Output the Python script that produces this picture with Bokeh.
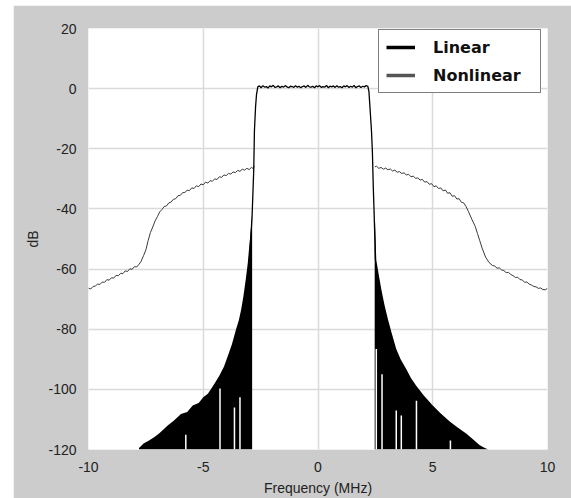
from bokeh.plotting import figure
from bokeh.models import Legend, LegendItem, FixedTicker
from bokeh.embed import file_html
from bokeh.resources import INLINE

# ---------------- data ----------------
x_ticks = [-10, -5, 0, 5, 10]
y_ticks = [-120, -100, -80, -60, -40, -20, 0, 20]

# Linear spectrum: in-band line
lin_x = [-2.99, -2.93, -2.87, -2.80, -2.77, -2.72, -2.68, -2.62,
         -2.55, -2.48, -2.40, -2.33, -2.25, -2.18, -2.10, -2.03, -1.95, -1.88,
         -1.80, -1.73, -1.65, -1.58, -1.50, -1.43, -1.35, -1.28, -1.20, -1.13,
         -1.05, -0.98, -0.90, -0.83, -0.75, -0.68, -0.60, -0.53, -0.45, -0.38,
         -0.30, -0.23, -0.15, -0.08, 0.00, 0.07, 0.15, 0.22, 0.30, 0.37, 0.45,
         0.52, 0.60, 0.67, 0.75, 0.82, 0.90, 0.97, 1.05, 1.12, 1.20, 1.27,
         1.35, 1.42, 1.50, 1.57, 1.65, 1.72, 1.80, 1.87, 1.95, 2.02, 2.10,
         2.17, 2.22,
         2.28, 2.33, 2.37, 2.41, 2.44, 2.47, 2.50, 2.54]
lin_y = [-57, -50, -42, -27, -14, -6, -2, 0.7,
         0.9, 0.3, 1.0, 0.5, 0.7, 0.2, 0.9, 0.6, 1.1, 0.4, 0.6,
         0.9, 0.3, 0.8, 0.5, 1.0, 0.6, 0.3, 0.8, 0.7, 0.4,
         1.0, 0.5, 0.8, 0.3, 0.7, 0.9, 0.4, 1.1, 0.6, 0.5,
         0.8, 0.3, 0.9, 0.6, 1.0, 0.4, 0.7, 0.5, 1.1, 0.3,
         0.8, 0.6, 0.9, 0.4, 1.0, 0.5, 0.7, 0.3, 0.9, 0.6,
         1.0, 0.4, 0.8, 0.5, 1.1, 0.3, 0.7, 0.9, 0.4, 0.8, 0.6,
         1.0, 0.8,
         -1.0, -8.0, -14.0, -21.0, -33.0, -40.0, -48.0, -57.0]

# Linear spectrum: spectral skirts (upper envelope of the black spikes)
skirt_l_x = [-7.80, -7.60, -7.40, -7.14, -6.90, -6.55, -6.30, -5.97, -5.70,
             -5.46, -5.20, -5.00, -4.80, -4.66, -4.50, -4.30, -4.10, -3.93,
             -3.75, -3.57, -3.45, -3.35, -3.25, -3.14, -3.06, -2.99, -2.93, -2.87]
skirt_l_y = [-119.5, -118.0, -117.2, -115.9, -114.5, -112.0, -110.5, -108.2,
             -107.5, -105.4, -104.5, -102.6, -101.5, -99.9, -98.0, -95.5, -92.5,
             -88.9, -85.0, -80.0, -77.0, -73.5, -69.0, -63.0, -58.0, -52.0,
             -47.0, -42.0]
skirt_r_x = [2.47, 2.50, 2.54, 2.65, 2.76, 2.90, 3.05, 3.20, 3.41, 3.60, 3.85,
             4.05, 4.28, 4.60, 5.00, 5.35, 5.74, 6.10, 6.47, 6.75, 7.05, 7.25, 7.42]
skirt_r_y = [-40.0, -48.0, -57.0, -62.0, -66.8, -72.0, -76.8, -81.0, -86.6,
             -90.0, -93.3, -96.2, -98.8, -102.0, -105.4, -108.0, -110.7, -112.8,
             -114.8, -116.6, -118.6, -119.4, -120.0]

# Notches (white gaps) in the black skirts: frequency and top level
gap_x = [-5.76, -4.27, -3.64, -3.40, 2.54, 2.79, 3.41, 3.63, 4.29, 5.77]
gap_top = [-115.1, -99.7, -106.0, -102.6, -86.6, -95.0, -107.0, -108.7, -103.8, -117.0]

# Nonlinear spectrum (out-of-band regrowth)
nl_l_x = [-10.0, -9.9, -9.8, -9.7, -9.6, -9.5, -9.4, -9.3, -9.2, -9.1, -9.0,
          -8.9, -8.8, -8.7, -8.6, -8.5, -8.4, -8.3, -8.2, -8.1, -8.0, -7.9,
          -7.8, -7.72, -7.6, -7.5, -7.4, -7.3, -7.2, -7.1, -7.0, -6.9, -6.8,
          -6.7, -6.6, -6.5, -6.4, -6.3, -6.2, -6.1, -6.0, -5.9, -5.8, -5.7,
          -5.6, -5.5, -5.4, -5.3, -5.2, -5.1, -5.0, -4.9, -4.8, -4.7, -4.6,
          -4.5, -4.4, -4.3, -4.2, -4.1, -4.0, -3.9, -3.8, -3.7, -3.6, -3.5,
          -3.4, -3.3, -3.2, -3.1, -3.0, -2.9, -2.82, -2.78]
nl_l_y = [-66.4, -66.6, -65.8, -65.6, -65.0, -65.1, -64.3, -64.4, -63.5, -63.7,
          -62.9, -63.0, -62.1, -62.2, -61.4, -61.5, -60.6, -60.8, -59.9, -60.1,
          -59.2, -59.3, -58.4, -57.6, -55.5, -53.6, -50.5, -47.8, -46.0, -44.0,
          -42.6, -41.0, -40.2, -39.2, -39.0, -38.0, -37.7, -36.8, -36.6, -35.6,
          -35.5, -34.6, -34.5, -33.8, -33.9, -33.0, -33.2, -32.3, -32.6, -31.7,
          -32.0, -31.1, -31.4, -30.6, -30.8, -30.0, -30.2, -29.3, -29.5, -28.7,
          -28.9, -28.2, -28.4, -27.7, -27.9, -27.2, -27.5, -26.8, -27.1, -26.5,
          -26.9, -26.2, -26.6, -25.8]
nl_r_x = [2.48, 2.55, 2.65, 2.75, 2.85, 2.95, 3.05, 3.15, 3.25, 3.35, 3.45,
          3.55, 3.65, 3.75, 3.85, 3.95, 4.05, 4.15, 4.25, 4.35, 4.45, 4.55,
          4.65, 4.75, 4.85, 4.95, 5.05, 5.15, 5.25, 5.35, 5.45, 5.55, 5.65,
          5.75, 5.85, 5.95, 6.05, 6.15, 6.25, 6.35, 6.45, 6.55, 6.7, 6.85,
          6.95, 7.05, 7.15, 7.3, 7.45, 7.6, 7.7, 7.8, 7.9, 8.0, 8.1, 8.2, 8.3,
          8.4, 8.5, 8.6, 8.7, 8.8, 8.9, 9.0, 9.1, 9.2, 9.3, 9.4, 9.5, 9.6,
          9.7, 9.8, 9.9, 10.0]
nl_r_y = [-26.0, -25.8, -26.5, -26.2, -26.8, -26.4, -27.0, -26.7, -27.4, -27.1,
          -27.8, -27.6, -28.2, -28.0, -28.7, -28.5, -29.3, -29.1, -29.8, -29.7,
          -30.4, -30.2, -31.1, -30.9, -31.8, -31.6, -32.6, -32.3, -33.2, -33.0,
          -34.0, -33.7, -34.8, -34.6, -35.8, -35.6, -36.7, -36.6, -37.8, -38.0,
          -39.2, -40.8, -43.4, -45.8, -48.2, -50.6, -53.0, -56.0, -57.8, -58.8,
          -59.0, -59.7, -59.6, -60.3, -60.5, -61.2, -61.1, -61.8, -62.2, -62.8,
          -62.7, -63.5, -63.6, -64.4, -64.3, -65.0, -65.3, -65.8, -65.9, -66.4,
          -66.3, -66.8, -66.9, -66.4]

# ---------------- figure ----------------
p = figure(width=558, height=493, x_range=(-10, 10), y_range=(-120, 20),
           output_backend="svg", toolbar_location=None, margin=(5, 0, 0, 13),
           min_border_left=75, min_border_right=24, min_border_top=23,
           min_border_bottom=46)
p.border_fill_color = "#CCCCCC"
p.background_fill_color = "white"
p.outline_line_color = None

for ax in (p.xaxis[0], p.yaxis[0]):
    ax.axis_line_color = None
    ax.major_tick_line_color = None
    ax.minor_tick_line_color = None
    ax.major_label_text_font = "Liberation Sans"
    ax.major_label_text_font_size = "14px"
    ax.major_label_text_color = "#222222"
    ax.axis_label_text_font = "Liberation Sans"
    ax.axis_label_text_font_size = "14px"
    ax.axis_label_text_font_style = "normal"
    ax.axis_label_text_color = "#222222"

p.xaxis.ticker = FixedTicker(ticks=x_ticks)
p.yaxis.ticker = FixedTicker(ticks=y_ticks)
p.xaxis.major_label_overrides = {t: str(t) for t in x_ticks}
p.yaxis.major_label_overrides = {t: str(t) for t in y_ticks}
p.xaxis.axis_label = "Frequency (MHz)"
p.yaxis.axis_label = "dB"
p.xaxis.major_label_standoff = 6
p.xaxis.axis_label_standoff = 5
p.yaxis.major_label_standoff = 6
p.yaxis.axis_label_standoff = 4

p.xgrid.ticker = FixedTicker(ticks=x_ticks)
p.ygrid.ticker = FixedTicker(ticks=y_ticks)
p.grid.grid_line_color = "#DADADA"
p.grid.grid_line_width = 1.5

# nonlinear
nl1 = p.line(nl_l_x, nl_l_y, line_color="#3a3a3a", line_width=1)
nl2 = p.line(nl_r_x, nl_r_y, line_color="#3a3a3a", line_width=1)

# linear skirts
p.varea(x=skirt_l_x, y1=-120, y2=skirt_l_y, fill_color="black")
p.varea(x=skirt_r_x, y1=-120, y2=skirt_r_y, fill_color="black")
p.segment(x0=gap_x, y0=[-120] * len(gap_x), x1=gap_x, y1=gap_top,
          line_color="white", line_width=1.5)
lin = p.line(lin_x, lin_y, line_color="black", line_width=1.3)

# legend proxies (thick lines; a single point draws nothing in the plot)
lg_lin = p.line(lin_x[:1], lin_y[:1], line_color="black", line_width=3.5)
lg_nl = p.line(nl_l_x[:1], nl_l_y[:1], line_color="#555555", line_width=3.5)

legend = Legend(items=[LegendItem(label="Linear", renderers=[lg_lin]),
                       LegendItem(label="Nonlinear", renderers=[lg_nl])],
                location=(290, 356))
legend.label_text_font = "DejaVu Sans"
legend.label_text_font_style = "bold"
legend.label_text_font_size = "16px"
legend.label_text_color = "#111111"
legend.glyph_width = 29
legend.glyph_height = 20
legend.label_height = 20
legend.label_standoff = 18
legend.label_width = 100
legend.padding = 7
legend.spacing = 8
legend.margin = 0
legend.border_line_color = "black"
legend.border_line_width = 1
legend.background_fill_color = "white"
legend.background_fill_alpha = 1
p.add_layout(legend, "center")

open("out.html", "w").write(file_html(p, INLINE))
